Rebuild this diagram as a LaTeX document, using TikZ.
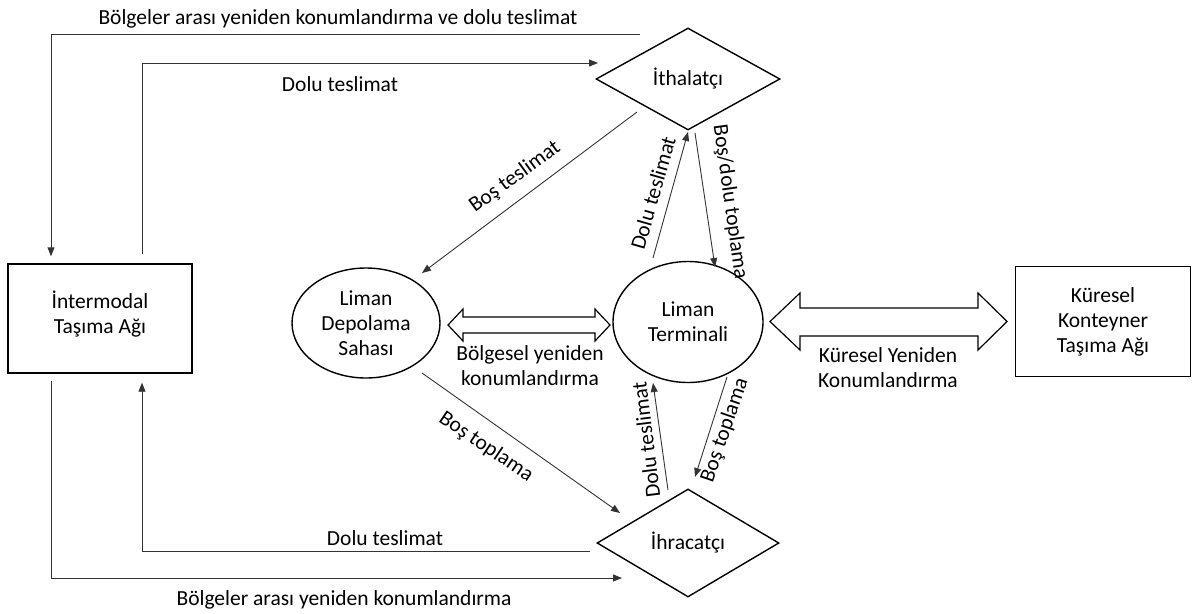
\documentclass[tikz,border=0pt]{standalone}
\usepackage{fontspec}
\setmainfont{Carlito}
\usetikzlibrary{shapes.geometric,arrows.meta}
\begin{document}
\begin{tikzpicture}[x=1pt,y=-1pt,
  every node/.style={font=\fontsize{21.5}{25}\selectfont},
  box/.style={draw,line width=1.4pt,rectangle,align=center,inner sep=0pt},
  oval/.style={draw,line width=1.4pt,ellipse,align=center,inner sep=0pt},
  dia/.style={draw,line width=1.4pt,diamond,inner sep=0pt},
  flow/.style={draw=black!80,line width=0.9pt,-{Triangle[length=9pt,width=7pt]}},
  lbl/.style={inner sep=1pt,align=center},
  wide/.style={draw,line width=1.2pt,fill=white,line join=miter}
]
\useasboundingbox (0,0) rectangle (1198,613);

% actors and places
\node[box,minimum width=184,minimum height=109] (inter) at (100,318.5) {İntermodal\\Taşıma Ağı\\[-13pt]};
\node[box,minimum width=175,minimum height=110] (glob) at (1103,321.5) {Küresel\\Konteyner\\Taşıma Ağı};
\node[dia,minimum width=184,minimum height=102] (imp) at (688,79) {İthalatçı};
\node[dia,minimum width=182,minimum height=108] (exp) at (688,543) {İhracatçı};
\node[oval,minimum width=148,minimum height=110] (depot) at (366,323) {Liman\\Depolama\\Sahası};
\node[oval,minimum width=150,minimum height=121] (term) at (688,322) {Liman\\Terminali};

% free ends of the flows
\coordinate (t1) at (640,34);
\coordinate (t2) at (598,63);
\coordinate (bt1) at (637,112);
\coordinate (bt2) at (422,273);
\coordinate (dt1) at (653,258);
\coordinate (dt2) at (688,132);
\coordinate (bd1) at (695,133);
\coordinate (bd2) at (715,267);
\coordinate (bp1) at (422,373);
\coordinate (bp2) at (620,513);
\coordinate (de1) at (668,490);
\coordinate (de2) at (653,383);
\coordinate (be1) at (727,377);
\coordinate (be2) at (695,477);
\coordinate (f1) at (590,551);
\coordinate (f2) at (622,578);

% flows around the intermodal network
\draw[flow] (t1) -| ([xshift=-49pt,yshift=7pt]inter.north);
\draw[flow] ([xshift=42pt,yshift=9pt]inter.north) |- (t2);
\draw[flow] (f1) -| ([xshift=42pt,yshift=-9pt]inter.south);
\draw[flow] ([xshift=-49pt,yshift=-7pt]inter.south) |- (f2);

% flows between port, importer and exporter
\draw[flow] (bt1) -- (bt2);
\draw[flow] (dt1) -- (dt2);
\draw[flow] (bd1) -- (bd2);
\draw[flow] (bp1) -- (bp2);
\draw[flow] (de1) -- (de2);
\draw[flow] (be1) -- (be2);

% repositioning arrows
\draw[wide] (448,325) -- (463,309) -- (463,317) -- (595,317) -- (595,309) -- (610,325)
  -- (595,341) -- (595,333) -- (463,333) -- (463,341) -- cycle;
\draw[wide] (770,321.5) -- (800,293) -- (800,308) -- (978,308) -- (978,293) -- (1007,321.5)
  -- (978,350) -- (978,336) -- (800,336) -- (800,350) -- cycle;

% labels
\node[lbl] (l1) at (338,19) {Bölgeler arası yeniden konumlandırma ve dolu teslimat};
\node[lbl] (l2) at (340,84) {Dolu teslimat};
\node[lbl,rotate=36] (l3) at (515,177) {Boş teslimat};
\node[lbl,rotate=74] (l4) at (653,193) {Dolu teslimat};
\node[lbl,rotate=-82] (l5) at (730,202) {Boş/dolu toplama};
\node[lbl] (l6) at (530,366) {Bölgesel yeniden\\konumlandırma};
\node[lbl] (l7) at (888,368) {Küresel Yeniden\\Konumlandırma};
\node[lbl,rotate=-34] (l8) at (486,447) {Boş toplama};
\node[lbl,rotate=97] (l9) at (646,440) {Dolu teslimat};
\node[lbl,rotate=71] (l10) at (725,430) {Boş toplama};
\node[lbl] (l11) at (385,538) {Dolu teslimat};
\node[lbl] (l12) at (344,600) {Bölgeler arası yeniden konumlandırma};
\end{tikzpicture}
\end{document}
